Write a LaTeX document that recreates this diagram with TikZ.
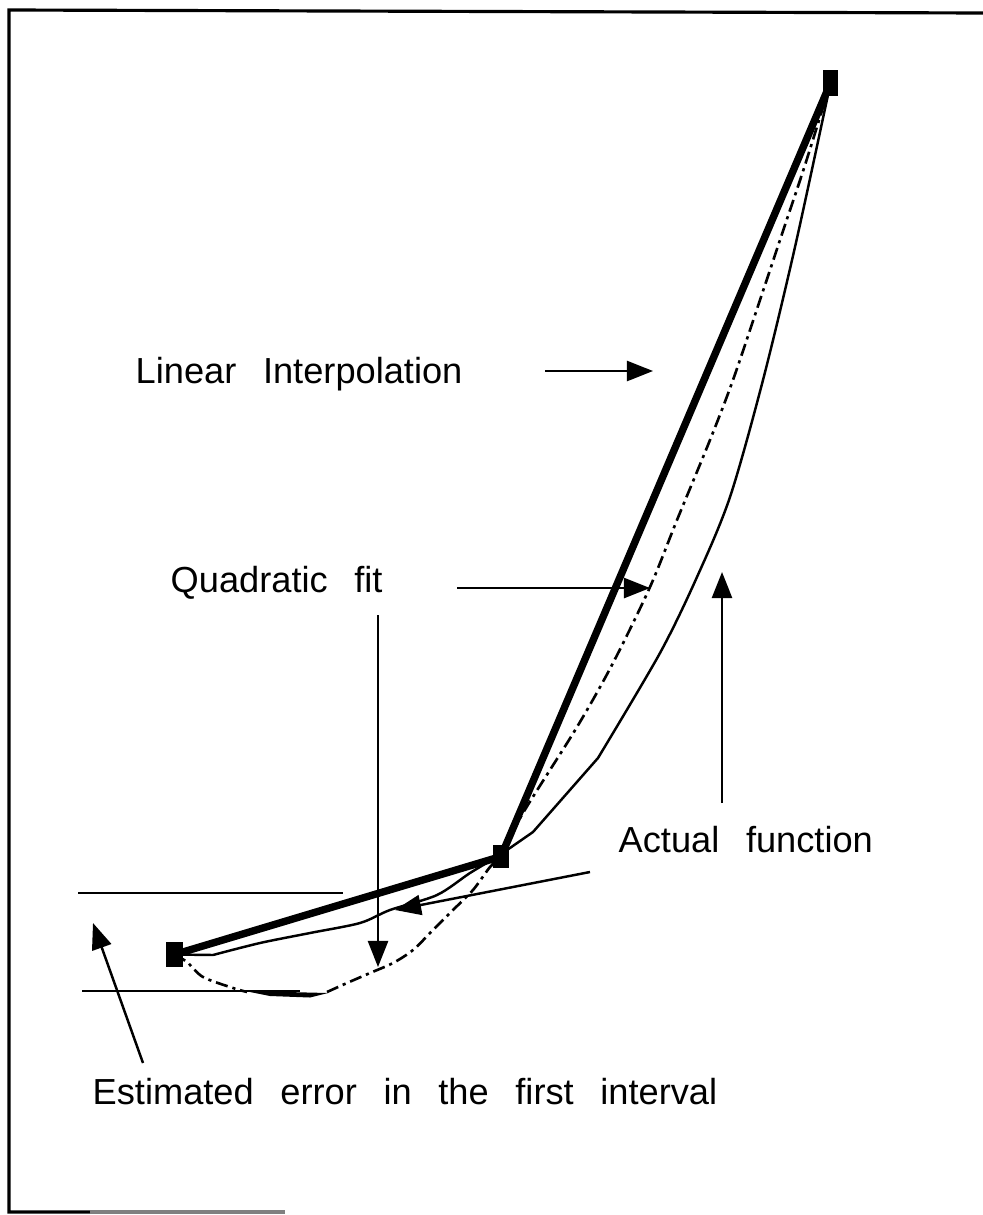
\documentclass[tikz,border=0pt]{standalone}
\usepackage{fontspec}
\setmainfont{Liberation Sans}[WordSpace=2.65]
\usetikzlibrary{arrows.meta}
\begin{document}
\begin{tikzpicture}[x=0.01cm,y=-0.01cm,
  lbl/.style={anchor=base west,inner sep=0pt,font=\fontsize{10.3}{12}\selectfont},
  sq/.style={fill=black,draw=none,inner sep=0pt},
  thinline/.style={line width=0.7pt,line join=round},
  thickline/.style={line width=2.1pt,line cap=round,line join=round},
  quad/.style={line width=0.75pt,dash pattern=on 3.5pt off 1.4pt on 0.9pt off 1.4pt},
  arr/.style={line width=0.7pt,-{Triangle[length=0.26cm,width=0.2cm]}},
  frameline/.style={line width=0.9pt}]
\useasboundingbox (0,0) rectangle (983,1215);
% frame
\draw[frameline] (983,13) -- (9,10) -- (9,1212) -- (90,1212);
\draw[frameline,gray] (90,1212) -- (285,1212);
% data points
\node[sq,minimum width=0.17cm,minimum height=0.25cm] (p0) at (174.5,954.5) {};
\node[sq,minimum width=0.16cm,minimum height=0.23cm] (p1) at (501,856.5) {};
\node[sq,minimum width=0.15cm,minimum height=0.26cm] (p2) at (830.5,83) {};
% error band lines
\coordinate (h1a) at (78,893); \coordinate (h1b) at (343,893);
\coordinate (h2a) at (82,991); \coordinate (h2b) at (300,991);
\draw[thinline] (h1a) -- (h1b);
\draw[thinline] (h2a) -- (h2b);
% linear interpolation
\draw[thickline] (p0.center) -- (p1.center) -- (p2.center);
% actual function
\draw[thinline] (p0.center) -- (213,955)
  plot[smooth,tension=0.5] coordinates {(213,955) (260,943) (310,933) (360,923) (390,910) (437,895) (470,873) (497,857)}
  -- (533,832) -- (598,758)
  plot[smooth,tension=0.5] coordinates {(598,758) (660,653) (697,577) (730,497) (763,380) (795,247) (p2.center)};
% quadratic fit
\draw[quad] plot[smooth,tension=0.5] coordinates {(p0.center) (187,962) (203,977) (233,988) (247,992)};
\fill (245,991) -- (328,993) -- (310,997.5) -- (270,996) -- cycle;
\draw[quad] plot[smooth,tension=0.5] coordinates {(327,992) (347,983) (370,973) (393,963) (413,950) (433,930) (453,910) (473,890) (490,867) (p1.center)};
\draw[quad] plot[smooth,tension=0.5] coordinates {(p1.center) (523,813) (577,727) (613,663) (650,587) (677,520) (710,440) (733,380) (760,300) (785,225) (805,165) (p2.center)};
% labels
\node[lbl] (tlin) at (135,383) {Linear Interpolation};
\node[lbl] (tquad) at (170,592) {Quadratic fit};
\node[lbl] (tact) at (618,852) {Actual function};
\node[lbl] (terr) at (92,1104) {Estimated error in the first interval};
% arrows
\coordinate (la) at (545,371); \coordinate (lb) at (653,371);
\draw[arr] (la) -- (lb);
\coordinate (qa) at (457,588); \coordinate (qb) at (650,588);
\draw[arr] (qa) -- (qb);
\coordinate (qc) at (378,615); \coordinate (qd) at (378,967);
\draw[arr] (qc) -- (qd);
\coordinate (aa) at (722,803); \coordinate (ab) at (722,572);
\draw[arr] (aa) -- (ab);
\coordinate (ac) at (590,872); \coordinate (ad) at (395,910);
\draw[arr] (ac) -- (ad);
\coordinate (ea) at (143,1063); \coordinate (eb) at (93,923);
\draw[arr] (ea) -- (eb);
\end{tikzpicture}
\end{document}
